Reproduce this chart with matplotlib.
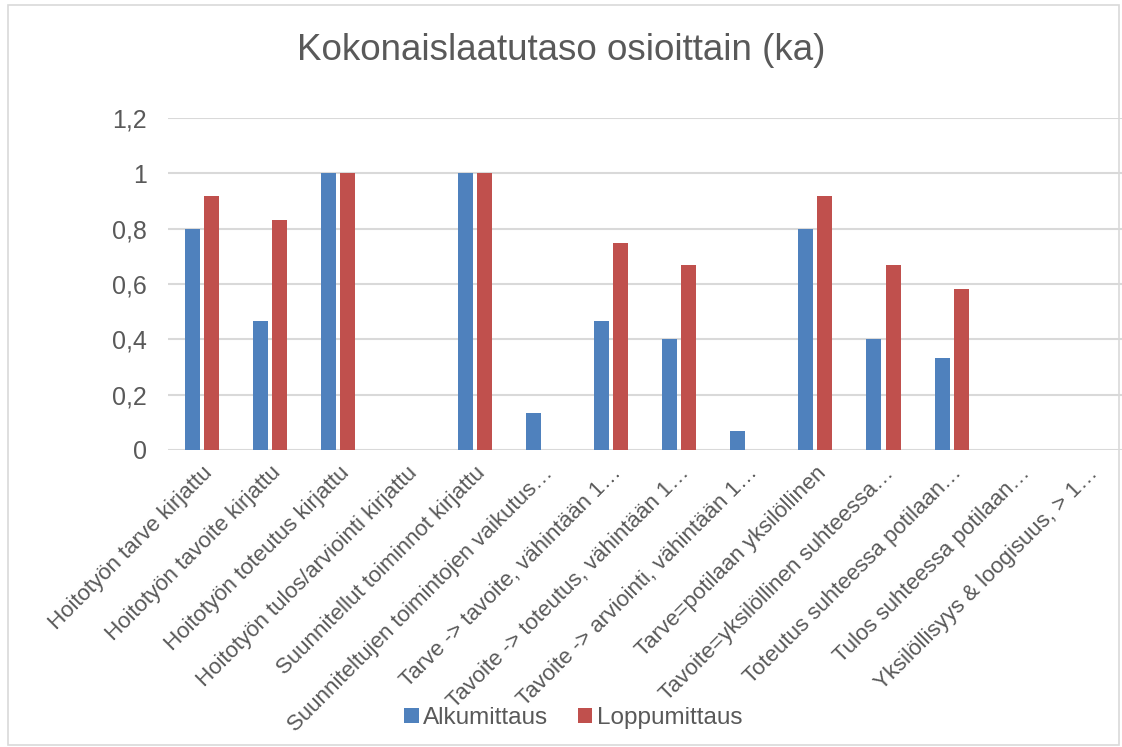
import matplotlib
matplotlib.use("Agg")
import matplotlib.pyplot as plt
import numpy as np
from matplotlib.patches import Rectangle

plt.rcParams['font.family'] = ['Liberation Sans', 'DejaVu Sans']

categories = [
    "Hoitotyön tarve kirjattu",
    "Hoitotyön tavoite kirjattu",
    "Hoitotyön toteutus kirjattu",
    "Hoitotyön tulos/arviointi kirjattu",
    "Suunnitellut toiminnot kirjattu",
    "Suunniteltujen toimintojen vaikutus…",
    "Tarve -> tavoite, vähintään 1…",
    "Tavoite -> toteutus, vähintään 1…",
    "Tavoite -> arviointi, vähintään 1…",
    "Tarve=potilaan yksilöllinen",
    "Tavoite=yksilöllinen suhteessa…",
    "Toteutus suhteessa potilaan…",
    "Tulos suhteessa potilaan…",
    "Yksilöllisyys & loogisuus, > 1…",
]
alkumittaus = [0.8, 0.467, 1.0, 0.0, 1.0, 0.133, 0.467, 0.4, 0.067, 0.8, 0.4, 0.333, 0.0, 0.0]
loppumittaus = [0.917, 0.833, 1.0, 0.0, 1.0, 0.0, 0.75, 0.667, 0.0, 0.917, 0.667, 0.583, 0.0, 0.0]
yticks = [0, 0.2, 0.4, 0.6, 0.8, 1.0, 1.2]
yticklabels = ["0", "0,2", "0,4", "0,6", "0,8", "1", "1,2"]

blue = "#4f81bd"
red = "#c0504d"
gray = "#595959"
grid = "#d9d9d9"

fig = plt.figure(figsize=(11.22, 7.47), dpi=100)
ax = fig.add_axes([0.1497, 0.3976, 0.8503, 0.4444])

x = np.arange(len(categories))
w = 0.22
ax.bar(x - 0.14, alkumittaus, width=w, color=blue, label="Alkumittaus", zorder=3)
ax.bar(x + 0.14, loppumittaus, width=w, color=red, label="Loppumittaus", zorder=3)

ax.set_xlim(-0.5, len(categories) - 0.5)
ax.set_ylim(0, 1.2)
ax.set_yticks(yticks)
ax.set_yticklabels(yticklabels, fontsize=18, color=gray)
ax.set_xticks(x)
ax.set_xticklabels(categories, rotation=45, ha="right", va="top",
                   rotation_mode="anchor", fontsize=16, color=gray)
ax.tick_params(axis="both", length=0)
ax.tick_params(axis="y", pad=15)
ax.tick_params(axis="x", pad=9)
for s in ax.spines.values():
    s.set_visible(False)
ax.yaxis.grid(True, color=grid, linewidth=1.5, zorder=0)
ax.set_axisbelow(True)

fig.text(0.5, 0.933, "Kokonaislaatutaso osioittain (ka)", ha="center", va="center",
         fontsize=26.5, color=gray)

fig.legend(loc="center", bbox_to_anchor=(0.511, 0.039), ncol=2, frameon=False,
           fontsize=17.5, handlelength=0.6, handleheight=0.6, handletextpad=0.2,
           columnspacing=1.2, labelcolor=gray)

fig.patches.append(Rectangle((0.007, 0.003), 0.99, 0.99, transform=fig.transFigure,
                             fill=False, edgecolor=grid, linewidth=1.2))

fig.savefig("out.png", dpi=100)
